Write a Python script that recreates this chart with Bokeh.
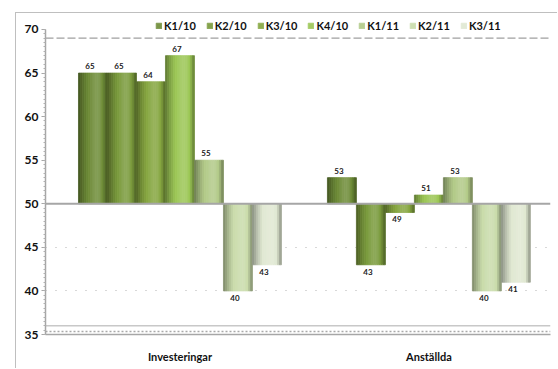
from bokeh.plotting import figure
from bokeh.models import Range1d, FixedTicker, Legend, LegendItem, Span, ColumnDataSource
from bokeh.embed import file_html
from bokeh.resources import INLINE
from bokeh.core.properties import value

# ---- data ----
groups = ["Investeringar", "Anställda"]
series = ["K1/10", "K2/10", "K3/10", "K4/10", "K1/11", "K2/11", "K3/11"]
investeringar = [65, 65, 64, 67, 55, 40, 43]
anstallda = [53, 43, 49, 51, 53, 40, 41]
base_value = 50
y_ticks = [35, 40, 45, 50, 55, 60, 65, 70]
colors = ["#6e8c37", "#7a9a3c", "#86a640", "#9cc655", "#b2ca88", "#cadcab", "#e0e8d2"]

group_values = [investeringar, anstallda]
group_start = [0.0, 8.586]
FONT = "Lato"

# cylinder-like shading profile across a bar
profile = [-0.34, -0.26, -0.18, -0.11, -0.05, 0.0, 0.05, 0.09, 0.13, 0.15, 0.14, 0.09, 0.0, -0.12, -0.28]
S = len(profile)


def shade(hexc, f):
    c = [int(hexc[i:i + 2], 16) for i in (1, 3, 5)]
    if f < 0:
        c = [int(v * (1 + f)) for v in c]
    else:
        c = [int(v + (255 - v) * f) for v in c]
    return "#%02x%02x%02x" % tuple(c)


rows = dict(x=[], w=[], top=[], bottom=[], color=[])
legend_index = {}
lab_pos = dict(x=[], y=[], t=[])
lab_neg = dict(x=[], y=[], t=[])
for g, vals in enumerate(group_values):
    for i, v in enumerate(vals):
        cx = group_start[g] + i
        for k in range(S):
            if g == 0 and k == S // 2:
                legend_index[i] = len(rows["x"])
            rows["x"].append(cx - 0.5 + (k + 0.5) / S)
            rows["w"].append(1.0 / S)
            rows["top"].append(v)
            rows["bottom"].append(base_value)
            rows["color"].append(shade(colors[i], profile[k]))
        if v > base_value:
            lab_pos["x"].append(cx); lab_pos["y"].append(v); lab_pos["t"].append(str(v))
        elif v < base_value:
            lab_neg["x"].append(cx); lab_neg["y"].append(v); lab_neg["t"].append(str(v))

y_min, y_max = y_ticks[0], y_ticks[-1]
p = figure(width=542, height=356, output_backend="svg", toolbar_location=None,
           x_range=Range1d(-1.638, 15.78), y_range=Range1d(y_min, y_max + 1.377),
           min_border_left=29, min_border_right=8, min_border_top=4, min_border_bottom=35,
           margin=(13, 0, 0, 16))
p.styles = {"box-shadow": "-1px -1px 0 0 #bfbfbf"}
p.outline_line_color = None
p.background_fill_color = "white"
p.xgrid.visible = False
p.ygrid.ticker = FixedTicker(ticks=[40, 45])
p.ygrid.grid_line_color = "#b0b0b0"
p.ygrid.grid_line_dash = "1 9"
p.ygrid.grid_line_width = 1.2

# back wall dashed top and floor
p.add_layout(Span(location=69.0, dimension="width", line_color="#a0a0a0",
                  line_dash="8 3", line_width=1.2, level="underlay"))
p.add_layout(Span(location=36.0, dimension="width", line_color="#c8c8c8",
                  line_width=1.5, level="underlay"))
p.add_layout(Span(location=35.35, dimension="width", line_color="#a8a8a8",
                  line_dash="2 2", line_width=1.5, level="underlay"))

src = ColumnDataSource(rows)
r = p.vbar(x="x", width="w", top="top", bottom="bottom", fill_color="color",
           line_color="color", line_width=0.8, source=src)

p.add_layout(Span(location=base_value, dimension="width", line_color="#a6a6a6", line_width=2))

p.text(x="x", y="y", text="t", source=ColumnDataSource(lab_pos), text_align="center",
       text_baseline="bottom", y_offset=-4, x_offset=-3, text_font=value(FONT),
       text_font_style="bold", text_font_size="8px", text_color="#222222")
p.text(x="x", y="y", text="t", source=ColumnDataSource(lab_neg), text_align="center",
       text_baseline="top", y_offset=4, x_offset=-3, text_font=value(FONT),
       text_font_style="bold", text_font_size="8px", text_color="#222222")

# axes
ya = p.yaxis[0]
ya.bounds = (y_min, y_max)
ya.ticker = FixedTicker(ticks=y_ticks, minor_ticks=[35 + 0.5 * j for j in range(71)])
ya.axis_line_color = "#a6a6a6"
ya.axis_line_width = 1.5
ya.major_tick_line_color = "#a6a6a6"
ya.major_tick_out = 4
ya.major_tick_in = 0
ya.minor_tick_line_color = "#b0b0b0"
ya.minor_tick_out = 2
ya.minor_tick_in = 0
ya.major_label_text_font = FONT
ya.major_label_text_font_style = "bold"
ya.major_label_text_font_size = "12px"
ya.major_label_text_color = "#111111"
ya.major_label_standoff = 3

xa = p.xaxis[0]
centers = [group_start[g] + (len(series) - 1) / 2 for g in range(len(groups))]
xa.ticker = FixedTicker(ticks=centers)
xa.major_label_overrides = {c: groups[g] for g, c in enumerate(centers)}
xa.axis_line_color = "#a6a6a6"
xa.axis_line_width = 1.5
xa.major_tick_line_color = None
xa.minor_tick_line_color = None
xa.major_label_text_font = FONT
xa.major_label_text_font_style = "bold"
xa.major_label_text_font_size = "11px"
xa.major_label_text_color = "#111111"
xa.major_label_standoff = 9

items = [LegendItem(label=s, renderers=[r], index=legend_index[i]) for i, s in enumerate(series)]
legend = Legend(items=items, orientation="horizontal", location=(110, 302),
                padding=0, margin=0, spacing=10, label_standoff=2,
                glyph_width=7, glyph_height=7, label_height=12,
                border_line_alpha=0, background_fill_alpha=0,
                label_text_font=FONT, label_text_font_style="bold",
                label_text_font_size="11px", label_text_color="#111111")
p.add_layout(legend, "center")

open("out.html", "w").write(file_html(p, INLINE))
